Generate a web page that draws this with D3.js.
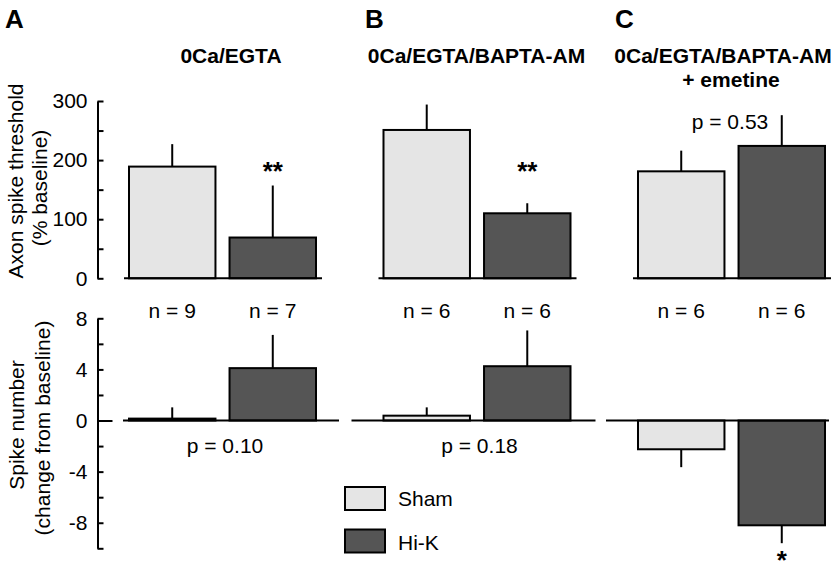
<!DOCTYPE html>
<html>
<head>
<meta charset="utf-8">
<script src="https://cdn.jsdelivr.net/npm/d3@7"></script>
<style>
  html, body { margin: 0; padding: 0; background: #fff; }
  svg { display: block; font-family: "Liberation Sans", Arial, Helvetica, sans-serif; }
</style>
</head>
<body>
<div id="chart"></div>
<script>
// panels and conditions
const groups = ['A', 'B', 'C'];
const titles = [['0Ca/EGTA'], ['0Ca/EGTA/BAPTA-AM'], ['0Ca/EGTA/BAPTA-AM', '+ emetine']];
const conditions = ['Sham', 'Hi-K'];

// axon spike threshold (% baseline), mean and SEM
const thresholdSham = [189, 251, 181];
const thresholdShamErr = [38, 43, 35];
const thresholdHiK = [69, 110, 224];
const thresholdHiKErr = [88, 17, 52];

// spike number (change from baseline), mean and SEM
const spikeSham = [0.15, 0.38, -2.25];
const spikeShamErr = [0.88, 0.65, 1.4];
const spikeHiK = [4.1, 4.25, -8.2];
const spikeHiKErr = [2.6, 2.8, 1.4];

const nSham = [9, 6, 6];
const nHiK = [7, 6, 6];
const topP = ['', '', 'p = 0.53'];
const bottomP = ['p = 0.10', 'p = 0.18', ''];
const topStars = ['**', '**', ''];
const bottomStars = ['', '', '*'];

const thresholdTicks = [0, 100, 200, 300];
const thresholdMinor = [50, 150, 250];
const spikeTicks = [8, 4, 0, -4, -8];
const spikeMinor = [6, 2, -2, -6, -10];

const width = 840, height = 580;
const light = '#e5e5e5', dark = '#555555';
const color = d3.scaleOrdinal().domain(conditions).range([light, dark]);
const font = '"Liberation Sans", Arial, Helvetica, sans-serif';

const svg = d3.select('#chart').append('svg')
  .attr('width', width).attr('height', height);
svg.append('rect').attr('width', width).attr('height', height).attr('fill', '#fff');

const gx = d3.scaleBand().domain(groups).range([124, 831]).paddingInner(0.222).paddingOuter(0);
const cx = d3.scaleBand().domain(conditions).range([5, 192]).paddingInner(0.14).paddingOuter(0);
const yTop = d3.scaleLinear().domain([0, 300]).range([278.3, 101]);
const yBot = d3.scaleLinear().domain([-10, 8]).range([548.3, 318.3]);
const axisX = 97.5;

function rows(sham, shamErr, hik, hikErr) {
  const out = [];
  groups.forEach((g, i) => {
    out.push({ g, i, c: 'Sham', v: sham[i], e: shamErr[i] });
    out.push({ g, i, c: 'Hi-K', v: hik[i], e: hikErr[i] });
  });
  return out;
}
const topRows = rows(thresholdSham, thresholdShamErr, thresholdHiK, thresholdHiKErr);
const botRows = rows(spikeSham, spikeShamErr, spikeHiK, spikeHiKErr);

function drawAxis(y, major, minor) {
  const g = svg.append('g').attr('transform', `translate(${axisX},0)`);
  g.call(d3.axisLeft(y).tickValues(major).tickSizeInner(-6).tickSizeOuter(0)
    .tickPadding(10).tickFormat(d => String(d)));
  g.append('g').call(d3.axisLeft(y).tickValues(minor).tickSizeInner(-6).tickSizeOuter(0)
    .tickFormat(''))
    .select('.domain').remove();
  g.selectAll('path, line').attr('stroke', '#000').attr('stroke-width', 2);
  g.selectAll('text').attr('font-size', 21).attr('fill', '#000').attr('font-family', font);
  return g;
}

function drawBars(rowsData, y) {
  const g = svg.append('g');
  // error bars first so bar outlines sit on top
  g.selectAll('.err').data(rowsData).join('line')
    .attr('class', 'err')
    .attr('x1', d => gx(d.g) + cx(d.c) + cx.bandwidth() / 2)
    .attr('x2', d => gx(d.g) + cx(d.c) + cx.bandwidth() / 2)
    .attr('y1', d => y(d.v))
    .attr('y2', d => y(d.v + (d.v < 0 ? -d.e : d.e)))
    .attr('stroke', '#000').attr('stroke-width', 2);
  g.selectAll('.bar').data(rowsData).join('rect')
    .attr('class', 'bar')
    .attr('x', d => gx(d.g) + cx(d.c))
    .attr('width', cx.bandwidth())
    .attr('y', d => Math.min(y(d.v), y(0)))
    .attr('height', d => Math.abs(y(d.v) - y(0)))
    .attr('fill', d => color(d.c))
    .attr('stroke', '#000').attr('stroke-width', 2);
  return g;
}

// top panel
drawAxis(yTop, thresholdTicks, thresholdMinor);
drawBars(topRows, yTop);
svg.selectAll('.base-top').data(groups).join('line')
  .attr('x1', d => gx(d)).attr('x2', d => gx(d) + gx.bandwidth())
  .attr('y1', yTop(0)).attr('y2', yTop(0))
  .attr('stroke', '#000').attr('stroke-width', 2);

// bottom panel
const botAxis = drawAxis(yBot, spikeTicks, spikeMinor);
botAxis.selectAll('.tick').filter(d => d === 0).select('line').attr('x2', 15);
drawBars(botRows, yBot);
const botExt = [[-1, 215], [-27, 217], [-27, 196]];
svg.selectAll('.base-bot').data(groups).join('line')
  .attr('x1', (d, i) => gx(d) + botExt[i][0]).attr('x2', (d, i) => gx(d) + botExt[i][1])
  .attr('y1', yBot(0)).attr('y2', yBot(0))
  .attr('stroke', '#000').attr('stroke-width', 2);

function label(x, y, txt, size, weight, anchor) {
  return svg.append('text').attr('x', x).attr('y', y).text(txt)
    .attr('font-size', size).attr('font-weight', weight || 'normal')
    .attr('text-anchor', anchor || 'middle').attr('font-family', font).attr('fill', '#000');
}

// panel letters and titles
const letterX = [5, 365, 615];
const titleShift = [8, -1, -9];
groups.forEach((g, i) => {
  label(letterX[i], 28, g, 26, 'bold', 'start');
  const mid = gx(g) + gx.bandwidth() / 2 + titleShift[i];
  titles[i].forEach((t, j) => label(mid + (j > 0 ? 8 : 0), 63 + j * 24, t, 21, 'bold'));
});

// n labels
topRows.forEach(d => {
  label(gx(d.g) + cx(d.c) + cx.bandwidth() / 2, 318, 'n = ' + (d.c === 'Sham' ? nSham[d.i] : nHiK[d.i]), 21);
});

// significance markers and p-values
groups.forEach((g, i) => {
  const hikMid = gx(g) + cx('Hi-K') + cx.bandwidth() / 2;
  const mid = gx(g) + gx.bandwidth() / 2;
  if (topStars[i]) label(hikMid, 180, topStars[i], 26, 'bold');
  if (bottomStars[i]) label(hikMid, 569, bottomStars[i], 26, 'bold');
  if (topP[i]) label(mid - 2, 129, topP[i], 21);
  if (bottomP[i]) label(mid + 2, 453, bottomP[i], 21);
});

// axis titles
function vlabel(x, cy, txt) {
  svg.append('text').attr('transform', `translate(${x},${cy}) rotate(-90)`)
    .attr('text-anchor', 'middle').attr('font-size', 21).attr('font-family', font)
    .attr('fill', '#000').text(txt);
}
vlabel(22.5, 181, 'Axon spike threshold');
vlabel(46.5, 188, '(% baseline)');
vlabel(24, 425, 'Spike number');
vlabel(49.5, 428, '(change from baseline)');

// legend
const legend = svg.append('g').attr('transform', 'translate(345,487)');
legend.selectAll('rect').data(conditions).join('rect')
  .attr('x', 0).attr('y', (d, i) => i * 42.5)
  .attr('width', 40).attr('height', 23)
  .attr('fill', d => color(d)).attr('stroke', '#000').attr('stroke-width', 2);
legend.selectAll('text').data(conditions).join('text')
  .attr('x', 53).attr('y', (d, i) => 18.5 + i * 44.5)
  .attr('font-size', 21).attr('font-family', font).attr('fill', '#000')
  .text(d => d);
</script>
</body>
</html>
